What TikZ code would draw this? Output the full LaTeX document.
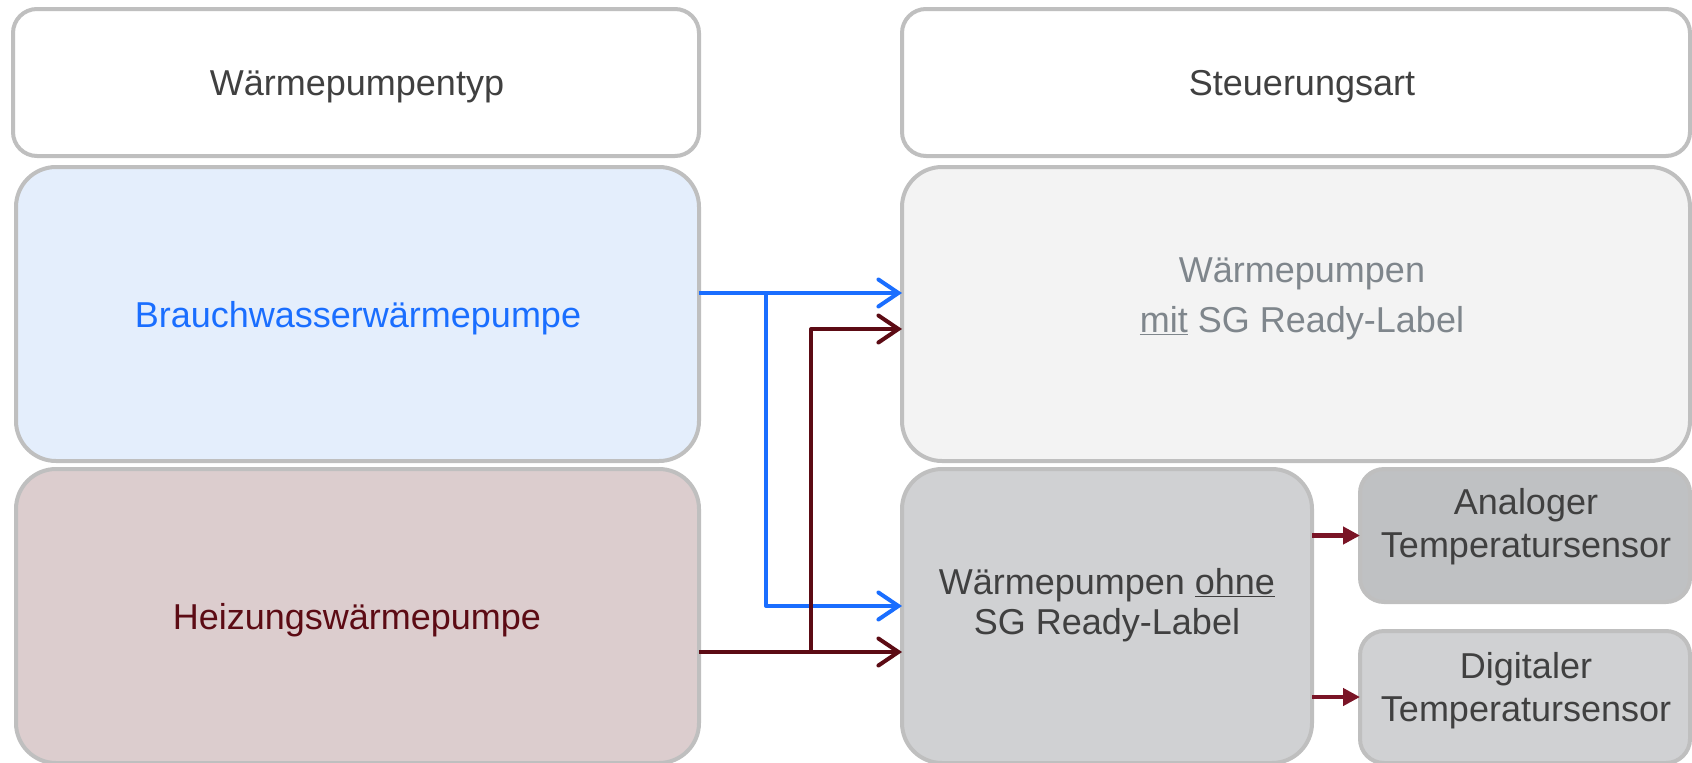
\documentclass[tikz,border=0pt]{standalone}
\usepackage{fontspec}
\setmainfont{Liberation Sans}
\usetikzlibrary{arrows.meta}

\definecolor{frame}{HTML}{BFBFBF}
\definecolor{txtdark}{HTML}{404040}
\definecolor{txtgray}{HTML}{7F868C}
\definecolor{flowblue}{HTML}{1A6EFF}
\definecolor{flowred}{HTML}{5C0B14}
\definecolor{smallred}{HTML}{7A1426}
\definecolor{fillblue}{HTML}{E4EEFC}
\definecolor{fillred}{HTML}{DCCDCE}
\definecolor{filllight}{HTML}{F3F3F3}
\definecolor{fillmid}{HTML}{D0D1D3}
\definecolor{filldark}{HTML}{BFC1C3}

\tikzset{
  box/.style={draw=frame, line width=4pt, outer sep=0pt, inner sep=0pt},
  headbox/.style={box, fill=white, rounded corners=24pt,
                  minimum height=147pt},
  bigbox/.style={box, rounded corners=40pt, minimum height=294pt},
  smallbox/.style={box, rounded corners=24pt, minimum width=330pt},
  lbl/.style={align=center, inner sep=0pt, text=txtdark,
              font=\fontsize{36}{42}\selectfont},
  flow/.style={line width=4pt, line join=round,
               -{Straight Barb[length=20pt,width=27pt,line cap=round]}},
  feed/.style={line width=4.5pt, draw=smallred,
               -{Triangle[length=17pt,width=17pt]}}
}

\begin{document}
\begin{tikzpicture}[x=1pt,y=-1pt]
\useasboundingbox (0,0) rectangle (1692,763);
\clip (0,0) rectangle (1692,763);

% column headings
\node[headbox, minimum width=686pt] (typ) at (356,82.5) {};
\node[lbl] (typtext) at (357,87) {Wärmepumpentyp};
\node[headbox, minimum width=788pt] (art) at (1296,82.5) {};
\node[lbl] (arttext) at (1302,87) {Steuerungsart};

% heat pump types
\node[bigbox, fill=fillblue, minimum width=683pt] (bw) at (357.5,314) {};
\node[lbl, text=flowblue] (bwtext) at (358,318) {Brauchwasserwärmepumpe};
\node[bigbox, fill=fillred, minimum width=683pt] (hz) at (357.5,616) {};
\node[lbl, text=flowred] (hztext) at (357,620) {Heizungswärmepumpe};

% control types
\node[bigbox, fill=filllight, minimum width=788pt] (mit) at (1296,314) {};
\node[lbl, text=txtgray, font=\fontsize{36}{50}\selectfont] (mittext) at (1302,299)
  {Wärmepumpen\\\underline{mit} SG Ready-Label};

\node[bigbox, fill=fillmid, minimum width=410pt] (ohne) at (1107,616) {};
\node[lbl, font=\fontsize{36}{40}\selectfont] (ohnetext) at (1107,605)
  {Wärmepumpen \underline{ohne}\\SG Ready-Label};

\node[smallbox, fill=filldark, minimum height=133pt] (ana) at (1525,535.5) {};
\node[lbl, font=\fontsize{36}{43}\selectfont] (anatext) at (1526,527)
  {Analoger\\Temperatursensor};

\node[smallbox, fill=fillmid, minimum height=132pt] (dig) at (1525,697) {};
\node[lbl, font=\fontsize{36}{43}\selectfont] (digtext) at (1526,691)
  {Digitaler\\Temperatursensor};

% branch points of the connectors
\coordinate (bwout) at ([yshift=21pt]bw.east);
\coordinate (hzout) at ([yshift=-36pt]hz.east);
\coordinate (bwsplit) at (766,293);
\coordinate (bwlow) at (766,606);
\coordinate (hzsplit) at (811,652);
\coordinate (hzhigh) at (811,329);

% hot water heat pump -> both control types
\draw[flow, draw=flowblue] (bwout) -- (bwout -| mit.west);
\draw[flow, draw=flowblue] (bwsplit) -- (bwlow) -- (bwlow -| ohne.west);

% heating heat pump -> both control types
\draw[flow, draw=flowred] (hzout) -- (hzout -| ohne.west);
\draw[flow, draw=flowred] (hzsplit) -- (hzhigh) -- (hzhigh -| mit.west);

% sensor options
\draw[feed] (ohne.east |- ana.west) -- (ana.west);
\draw[feed] (ohne.east |- dig.west) -- (dig.west);
\end{tikzpicture}
\end{document}
